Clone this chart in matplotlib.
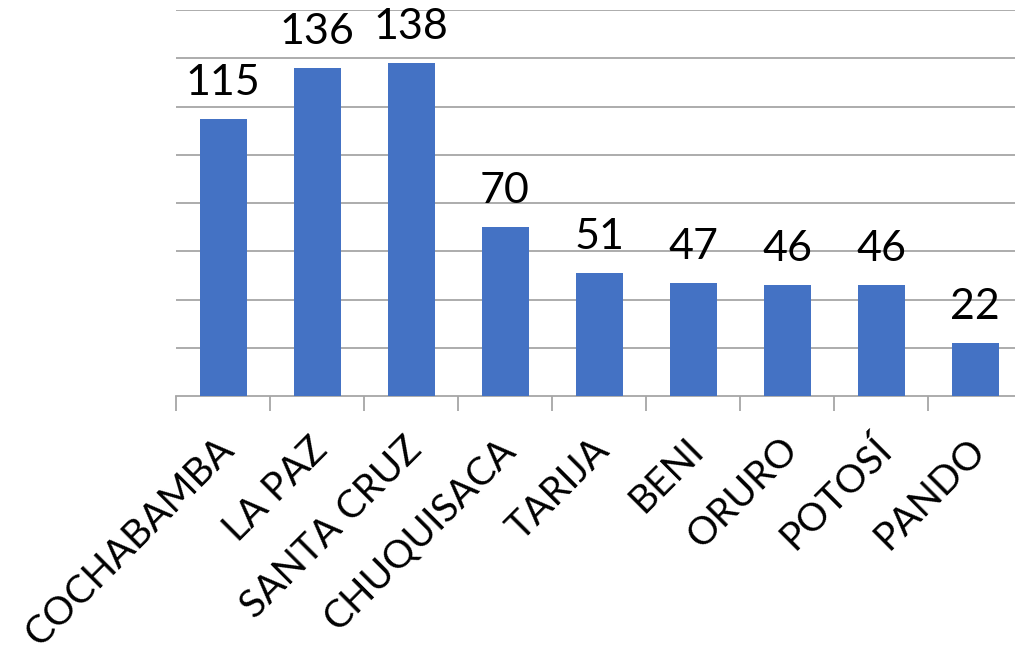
import matplotlib
matplotlib.use("Agg")
import matplotlib.pyplot as plt
import matplotlib.transforms as mtransforms
import numpy as np

departamentos = ['COCHABAMBA', 'LA PAZ', 'SANTA CRUZ', 'CHUQUISACA', 'TARIJA',
                 'BENI', 'ORURO', 'POTOSÍ', 'PANDO']
valores = [115, 136, 138, 70, 51, 47, 46, 46, 22]

plt.rcParams['font.family'] = ['Lato', 'DejaVu Sans']

fig = plt.figure(figsize=(10.15, 6.58), dpi=100)
ax = fig.add_axes([176/1015, (658-396)/658, (1022-176)/1015, (396-10)/658])

x = np.arange(len(departamentos))
bars = ax.bar(x, valores, width=0.5, color='#4472C4', zorder=3)

for xi, v in zip(x, valores):
    ax.annotate(str(v), (xi, v), xytext=(0, 12), textcoords='offset points',
                ha='center', va='bottom', fontsize=31, color='black')

ax.set_ylim(0, 160)
ax.set_xlim(-0.5, len(departamentos) - 0.5)
ax.set_yticks(np.arange(20, 161, 20))
ax.yaxis.grid(True, color='#a6a6a6', linewidth=1.3, zorder=0)
ax.tick_params(axis='y', length=0, labelleft=False)

ax.set_xticks(x)
ax.set_xticklabels(departamentos, rotation=45, ha='right', va='top',
                   rotation_mode='anchor', fontsize=28)
ax.tick_params(axis='x', which='major', length=0, pad=16)
ax.set_xticks(np.arange(-0.5, len(departamentos)), minor=True)
ax.tick_params(axis='x', which='minor', length=11, width=1.3, color='#a6a6a6')

# shift the rotated labels a bit down and left, like the original
shift = mtransforms.ScaledTranslation(-8/100, -13/100, fig.dpi_scale_trans)
for lab in ax.get_xticklabels():
    lab.set_transform(lab.get_transform() + shift)

for s in ['top', 'right', 'left']:
    ax.spines[s].set_visible(False)
ax.spines['bottom'].set_color('#a6a6a6')
ax.spines['bottom'].set_linewidth(1.3)

fig.savefig('out.png', dpi=100)
